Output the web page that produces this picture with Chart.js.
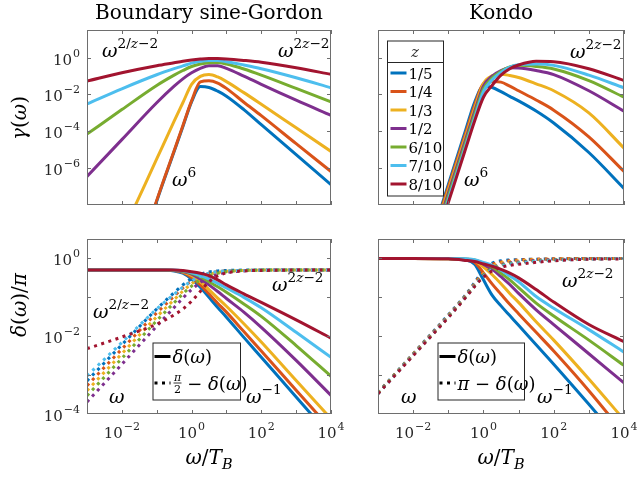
<!DOCTYPE html>
<html>
<head>
<meta charset="utf-8">
<title>gamma and delta, BSG vs Kondo</title>
<script src="https://cdn.jsdelivr.net/npm/chart.js@4.4.1/dist/chart.umd.min.js"></script>
<style>
  body { margin: 0; background: #fff; }
  #wrap { position: relative; width: 638px; height: 480px; }
  #wrap canvas { position: absolute; left: 0; top: 0; }
</style>
</head>
<body>
<div id="wrap">
  <canvas id="tl" width="638" height="480"></canvas>
  <canvas id="tr" width="638" height="480"></canvas>
  <canvas id="bl" width="638" height="480"></canvas>
  <canvas id="br" width="638" height="480"></canvas>
</div>
<script>
// frequency grid (omega / T_B)
const omega = [0.001, 0.01, 0.1, 0.316, 0.562, 1, 1.78, 3.16, 5.62, 10, 31.6, 100, 1000, 10000];
const zLabels = ['1/5', '1/4', '1/3', '1/2', '6/10', '7/10', '8/10'];
const colors = ['#0072BD', '#D95319', '#EDB120', '#7E2F8E', '#77AC30', '#4DBEEE', '#A2142F'];

// all series below are log10 of the plotted value, one row per z
const bsgGamma = [
  [-19.8, -13.8, -7.8, -5.1, -3.75, -2.4, -1.57, -1.62, -1.82, -2.09, -2.82, -3.64, -5.27, -6.9],
  [-19.7, -13.7, -7.75, -5.05, -3.7, -2.35, -1.32, -1.26, -1.38, -1.67, -2.42, -3.15, -4.67, -6.18],
  [-13.6, -9.6, -5.5, -3.45, -2.45, -1.45, -1.02, -0.92, -1.05, -1.3, -1.9, -2.53, -3.81, -5.09],
  [-6.45, -4.45, -2.45, -1.55, -1.15, -0.82, -0.58, -0.44, -0.44, -0.58, -1.0, -1.45, -2.31, -3.13],
  [-4.15, -2.82, -1.51, -0.95, -0.7, -0.48, -0.35, -0.28, -0.27, -0.35, -0.62, -0.95, -1.67, -2.4],
  [-2.51, -1.69, -0.93, -0.6, -0.45, -0.3, -0.2, -0.16, -0.16, -0.22, -0.4, -0.6, -1.09, -1.64],
  [-1.27, -0.82, -0.44, -0.28, -0.2, -0.13, -0.08, -0.05, -0.05, -0.07, -0.15, -0.25, -0.55, -0.91]
];
const kondoGamma = [
  [-18.9, -12.9, -6.9, -3.9, -2.42, -1.56, -1.62, -1.85, -2.1, -2.35, -2.9, -3.55, -5.15, -7.1],
  [-18.95, -12.95, -7.04, -4.07, -2.58, -1.42, -1.3, -1.33, -1.55, -1.8, -2.3, -2.85, -4.3, -6.18],
  [-19.1, -13.1, -7.2, -4.24, -2.76, -1.4, -0.98, -0.9, -0.97, -1.08, -1.42, -1.8, -3.0, -4.91],
  [-19.3, -13.3, -7.37, -4.41, -2.93, -1.55, -1.0, -0.7, -0.55, -0.56, -0.7, -0.92, -1.8, -2.91],
  [-19.5, -13.5, -7.54, -4.58, -3.1, -1.7, -1.1, -0.74, -0.5, -0.42, -0.48, -0.62, -1.25, -2.15],
  [-19.7, -13.7, -7.71, -4.75, -3.27, -1.85, -1.2, -0.8, -0.52, -0.38, -0.35, -0.42, -0.95, -1.64],
  [-19.9, -13.9, -7.87, -4.91, -3.44, -2.15, -1.5, -0.95, -0.6, -0.4, -0.2, -0.22, -0.6, -1.24]
];
const bsgDelta = [
  [-0.3, -0.3, -0.3, -0.32, -0.38, -0.53, -0.74, -1.0, -1.26, -1.51, -2.03, -2.54, -3.56, -4.59],
  [-0.3, -0.3, -0.3, -0.31, -0.36, -0.49, -0.68, -0.91, -1.15, -1.38, -1.88, -2.38, -3.39, -4.39],
  [-0.3, -0.3, -0.3, -0.31, -0.35, -0.44, -0.6, -0.8, -1.02, -1.23, -1.68, -2.15, -3.14, -4.12],
  [-0.3, -0.3, -0.3, -0.31, -0.34, -0.4, -0.53, -0.68, -0.85, -1.03, -1.38, -1.77, -2.62, -3.52],
  [-0.3, -0.3, -0.3, -0.31, -0.33, -0.38, -0.47, -0.6, -0.73, -0.87, -1.17, -1.49, -2.24, -3.03],
  [-0.3, -0.3, -0.3, -0.3, -0.32, -0.37, -0.44, -0.53, -0.64, -0.76, -1.0, -1.27, -1.9, -2.54],
  [-0.3, -0.3, -0.3, -0.3, -0.31, -0.34, -0.38, -0.44, -0.55, -0.68, -0.91, -1.13, -1.58, -2.05]
];
const bsgDeltaC = [
  [-3.15, -2.22, -1.3, -0.88, -0.68, -0.52, -0.41, -0.35, -0.32, -0.31, -0.3, -0.3, -0.3, -0.3],
  [-3.27, -2.33, -1.4, -0.97, -0.76, -0.58, -0.45, -0.38, -0.34, -0.32, -0.31, -0.3, -0.3, -0.3],
  [-3.4, -2.45, -1.5, -1.06, -0.84, -0.65, -0.5, -0.41, -0.36, -0.33, -0.31, -0.3, -0.3, -0.3],
  [-3.69, -2.72, -1.74, -1.26, -1.02, -0.8, -0.62, -0.49, -0.41, -0.36, -0.32, -0.3, -0.3, -0.3],
  [-3.53, -2.57, -1.6, -1.14, -0.91, -0.71, -0.55, -0.44, -0.38, -0.34, -0.31, -0.3, -0.3, -0.3],
  [-3.02, -2.16, -1.3, -0.92, -0.74, -0.58, -0.46, -0.38, -0.34, -0.32, -0.31, -0.3, -0.3, -0.3],
  [-2.32, -2.02, -1.69, -1.45, -1.3, -1.1, -0.85, -0.6, -0.45, -0.37, -0.32, -0.31, -0.3, -0.3]
];
const kondoDelta = [
  [0, 0, -0.01, -0.04, -0.15, -0.55, -0.95, -1.22, -1.47, -1.72, -2.22, -2.72, -3.75, -4.8],
  [0, 0, -0.01, -0.03, -0.1, -0.37, -0.66, -0.92, -1.18, -1.42, -1.9, -2.38, -3.4, -4.5],
  [0, 0, -0.01, -0.02, -0.07, -0.22, -0.42, -0.65, -0.9, -1.13, -1.63, -2.1, -3.1, -4.15],
  [0, 0, 0, -0.02, -0.05, -0.15, -0.28, -0.47, -0.67, -0.9, -1.32, -1.7, -2.45, -3.2],
  [0, 0, 0, -0.02, -0.04, -0.12, -0.22, -0.38, -0.55, -0.75, -1.15, -1.48, -2.1, -2.75],
  [0, 0, 0, -0.01, -0.03, -0.1, -0.18, -0.3, -0.45, -0.6, -0.98, -1.28, -1.83, -2.41],
  [0, 0, -0.01, -0.05, -0.08, -0.14, -0.2, -0.28, -0.38, -0.5, -0.8, -1.12, -1.7, -2.14]
];
const kondoDeltaC = [
  [-3.45, -2.45, -1.45, -0.93, -0.62, -0.3, -0.12, -0.06, -0.04, -0.03, -0.02, -0.01, 0, 0],
  [-3.46, -2.46, -1.47, -0.95, -0.65, -0.35, -0.16, -0.09, -0.06, -0.04, -0.02, -0.01, 0, 0],
  [-3.46, -2.47, -1.48, -0.96, -0.67, -0.39, -0.2, -0.12, -0.08, -0.06, -0.03, -0.02, -0.01, 0],
  [-3.47, -2.48, -1.49, -0.97, -0.69, -0.42, -0.24, -0.16, -0.11, -0.09, -0.05, -0.03, -0.01, 0],
  [-3.47, -2.48, -1.5, -0.98, -0.7, -0.44, -0.26, -0.18, -0.13, -0.11, -0.07, -0.04, -0.01, 0],
  [-3.48, -2.49, -1.51, -0.99, -0.71, -0.46, -0.29, -0.2, -0.15, -0.12, -0.08, -0.05, -0.02, 0],
  [-3.48, -2.5, -1.52, -1.0, -0.72, -0.48, -0.32, -0.23, -0.18, -0.15, -0.1, -0.06, -0.02, -0.01]
];

// axes
const xTicks = [1e-3, 1e-2, 1e-1, 1, 10, 100, 1000, 1e4];
const xTickLabels = [-2, 0, 2, 4];          // exponents of 10
const gammaTicks = [1, 1e-2, 1e-4, 1e-6];
const gammaTickLabels = [0, -2, -4, -6];
const deltaTicks = [1, 1e-1, 1e-2, 1e-3];
const deltaTickLabels = [0, -2, -4];

const FONT = '"DejaVu Serif", "Liberation Serif", serif';
const AXIS = '#6e6e6e';
const INK = '#262626';
const DOTS = [3, 4.5];

function rich(ctx, parts, x, y, size, align) {
  const fonts = parts.map(p => (p.i ? 'italic ' : '') + (p.s ? size * 0.72 : size) + 'px ' + FONT);
  let w = 0;
  parts.forEach((p, k) => { ctx.font = fonts[k]; w += ctx.measureText(p.t).width; });
  let cx = align === 'center' ? x - w / 2 : align === 'right' ? x - w : x;
  parts.forEach((p, k) => {
    ctx.font = fonts[k];
    const dy = p.s === 'sup' ? -size * 0.45 : p.s === 'sub' ? size * 0.25 : 0;
    ctx.fillText(p.t, cx, y + dy);
    cx += ctx.measureText(p.t).width;
  });
  return w;
}

function pow10(ctx, e, x, y, align) {
  const ex = e < 0 ? '\u2212' + (-e) : String(e);
  ctx.font = '15px ' + FONT;
  const wb = ctx.measureText('10').width;
  ctx.font = '11px ' + FONT;
  const we = ctx.measureText(ex).width;
  const tot = wb + 1 + we;
  const sx = align === 'right' ? x - tot : x - tot / 2;
  ctx.font = '15px ' + FONT;
  ctx.fillText('10', sx, y);
  ctx.font = '11px ' + FONT;
  ctx.fillText(ex, sx + wb + 1, y - 8);
}

const W = { t: '\u03c9', i: true };
const sup = (t, i) => ({ t: t, i: !!i, s: 'sup' });
const noteLow = [W, sup('2/'), sup('z', true), sup('\u22122')];
const noteHigh = [W, sup('2'), sup('z', true), sup('\u22122')];
const noteSix = [W, sup('6')];
const noteOne = [W];
const noteInv = [W, sup('\u22121')];

function line(ctx, x1, y1, x2, y2) {
  ctx.beginPath(); ctx.moveTo(x1, y1); ctx.lineTo(x2, y2); ctx.stroke();
}

function zLegend(ctx, ca) {
  const L = ca.left + 9, T = ca.top + 10.5;
  ctx.fillStyle = '#fff';
  ctx.fillRect(L, T, 56, 155);
  ctx.strokeStyle = INK; ctx.lineWidth = 1;
  ctx.strokeRect(L + 0.5, T + 0.5, 56, 155);
  line(ctx, L, T + 22, L + 56.5, T + 22);
  ctx.fillStyle = '#333';
  rich(ctx, [{ t: 'z', i: true }], L + 28, T + 16.5, 15, 'center');
  zLabels.forEach((lab, k) => {
    const y = T + 32.5 + k * 18.5;
    ctx.strokeStyle = colors[k]; ctx.lineWidth = 3;
    line(ctx, L + 3.5, y, L + 19.5, y);
    ctx.fillStyle = '#000';
    ctx.font = '15px ' + FONT;
    ctx.fillText(lab, L + 21.5, y + 5.5);
  });
}

function styleLegend(ctx, ca, kondo) {
  const L = ca.left + (kondo ? 59.5 : 65.5), T = ca.top + 103.5, Wd = kondo ? 86.5 : 87.5;
  ctx.fillStyle = '#fff';
  ctx.fillRect(L, T, Wd, 57);
  ctx.strokeStyle = INK; ctx.lineWidth = 1;
  ctx.strokeRect(L + 0.5, T + 0.5, Wd, 57);
  ctx.strokeStyle = '#000'; ctx.lineWidth = 3;
  line(ctx, L + 2, T + 14, L + 18, T + 14);
  ctx.setLineDash(DOTS);
  line(ctx, L + 2, T + 40.5, L + 18, T + 40.5);
  ctx.setLineDash([]);
  ctx.fillStyle = '#000';
  rich(ctx, [{ t: '\u03b4', i: true }, { t: '(' }, W, { t: ')' }], L + 20, T + 20, 18, 'left');
  if (kondo) {
    rich(ctx, [{ t: '\u03c0', i: true }, { t: ' \u2212 ' }, { t: '\u03b4', i: true }, { t: '(' }, W, { t: ')' }],
      L + 20, T + 47, 18, 'left');
  } else {
    const fx = L + 25;
    ctx.font = 'italic 11px ' + FONT; ctx.textAlign = 'center';
    ctx.fillText('\u03c0', fx, T + 38);
    ctx.font = '11px ' + FONT;
    ctx.fillText('2', fx, T + 50);
    ctx.textAlign = 'left';
    ctx.lineWidth = 0.8;
    line(ctx, fx - 4, T + 40.5, fx + 4, T + 40.5);
    rich(ctx, [{ t: ' \u2212 ' }, { t: '\u03b4', i: true }, { t: '(' }, W, { t: ')' }], fx + 4, T + 47, 18, 'left');
  }
}

function decor(spec) {
  return {
    id: 'decor',
    afterDraw(chart) {
      const ctx = chart.ctx, ca = chart.chartArea, xs = chart.scales.x, ys = chart.scales.y;
      ctx.save();
      ctx.textBaseline = 'alphabetic'; ctx.textAlign = 'left';
      // box + inward ticks on all sides
      ctx.strokeStyle = AXIS; ctx.lineWidth = 1;
      ctx.strokeRect(ca.left + 0.5, ca.top + 0.5, ca.right - ca.left - 1, ca.bottom - ca.top - 1);
      xTicks.forEach(v => {
        const px = Math.round(xs.getPixelForValue(v)) + 0.5;
        line(ctx, px, ca.bottom, px, ca.bottom - 4);
        line(ctx, px, ca.top, px, ca.top + 4);
      });
      spec.yTicks.forEach(v => {
        const py = Math.round(ys.getPixelForValue(v)) + 0.5;
        line(ctx, ca.left, py, ca.left + 4, py);
        line(ctx, ca.right, py, ca.right - 4, py);
      });
      ctx.fillStyle = INK;
      if (spec.yLabels) {
        spec.yLabels.forEach(e => pow10(ctx, e, ca.left - 7, ys.getPixelForValue(Math.pow(10, e)) + 7, 'right'));
      }
      if (spec.xLabels) {
        xTickLabels.forEach(e => pow10(ctx, e, xs.getPixelForValue(Math.pow(10, e)), ca.bottom + 24, 'center'));
        ctx.fillStyle = '#000';
        rich(ctx, [W, { t: '/' }, { t: 'T', i: true }, { t: 'B', i: true, s: 'sub' }],
          (ca.left + ca.right) / 2, ca.bottom + 50, 20, 'center');
      }
      ctx.fillStyle = '#000';
      if (spec.title) {
        ctx.font = '20px ' + FONT; ctx.textAlign = 'center';
        ctx.fillText(spec.title, (ca.left + ca.right) / 2, 19);
        ctx.textAlign = 'left';
      }
      if (spec.ylabel) {
        ctx.save();
        ctx.translate(26, spec.ylabelY);
        ctx.rotate(-Math.PI / 2);
        rich(ctx, spec.ylabel, 0, 0, 20, 'center');
        ctx.restore();
      }
      spec.notes.forEach(n => rich(ctx, n.parts, ca.left + n.dx, ca.top + n.dy, 19, 'left'));
      if (spec.legend) spec.legend(ctx, ca);
      ctx.restore();
    }
  };
}

function makeSets(solid, dotted) {
  const sets = [];
  solid.forEach((row, k) => {
    sets.push({ row: row, color: colors[k], dash: [] });
    if (dotted) sets.push({ row: dotted[k], color: colors[k], dash: DOTS });
  });
  return sets.map((s, n) => ({
    data: omega.map((w, j) => ({ x: w, y: Math.pow(10, s.row[j]) })),
    borderColor: s.color,
    borderWidth: 3,
    borderDash: s.dash,
    borderCapStyle: 'butt',
    pointRadius: 0,
    cubicInterpolationMode: 'monotone',
    tension: 0.4,
    fill: false,
    clip: 0,
    order: -n
  }));
}

function panel(id, area, yMin, yMax, datasets, spec) {
  new Chart(document.getElementById(id), {
    type: 'line',
    data: { datasets: datasets },
    options: {
      responsive: false,
      animation: false,
      devicePixelRatio: 1,
      layout: { padding: { left: area[0], top: area[1], right: 638 - area[2], bottom: 480 - area[3] } },
      elements: { line: { capBezierPoints: false } },
      plugins: { legend: { display: false }, tooltip: { enabled: false } },
      scales: {
        x: { type: 'logarithmic', min: 1e-3, max: 1e4, display: false },
        y: { type: 'logarithmic', min: yMin, max: yMax, display: false }
      },
      events: []
    },
    plugins: [decor(spec)]
  });
}

const gammaLabel = [{ t: '\u03b3', i: true }, { t: '(' }, W, { t: ')' }];
const deltaLabel = [{ t: '\u03b4', i: true }, { t: '(' }, W, { t: ')/' }, { t: '\u03c0', i: true }];

panel('tl', [87, 30, 331, 205], 1e-8, Math.pow(10, 1.5), makeSets(bsgGamma), {
  title: 'Boundary sine-Gordon', yTicks: gammaTicks, yLabels: gammaTickLabels, xLabels: false,
  ylabel: gammaLabel, ylabelY: 118,
  notes: [{ parts: noteLow, dx: 15, dy: 27 }, { parts: noteHigh, dx: 191, dy: 27 }, { parts: noteSix, dx: 85, dy: 156 }]
});
panel('tr', [378, 30, 624, 205], 1e-8, Math.pow(10, 1.5), makeSets(kondoGamma), {
  title: 'Kondo', yTicks: gammaTicks, yLabels: null, xLabels: false,
  notes: [{ parts: noteHigh, dx: 192, dy: 28 }, { parts: noteSix, dx: 86, dy: 156 }],
  legend: zLegend
});
panel('bl', [87, 239, 331, 414], 1e-4, Math.pow(10, 0.5), makeSets(bsgDelta, bsgDeltaC), {
  yTicks: deltaTicks, yLabels: deltaTickLabels, xLabels: true,
  ylabel: deltaLabel, ylabelY: 305,
  notes: [{ parts: noteLow, dx: 6, dy: 79 }, { parts: noteHigh, dx: 185, dy: 52 },
          { parts: noteOne, dx: 22, dy: 164 }, { parts: noteInv, dx: 159, dy: 164 }],
  legend: (ctx, ca) => styleLegend(ctx, ca, false)
});
panel('br', [378, 239, 624, 414], 1e-4, Math.pow(10, 0.5), makeSets(kondoDelta, kondoDeltaC), {
  yTicks: deltaTicks, yLabels: null, xLabels: true,
  notes: [{ parts: noteHigh, dx: 184, dy: 48 }, { parts: noteOne, dx: 23, dy: 164 }, { parts: noteInv, dx: 159, dy: 164 }],
  legend: (ctx, ca) => styleLegend(ctx, ca, true)
});
</script>
</body>
</html>
